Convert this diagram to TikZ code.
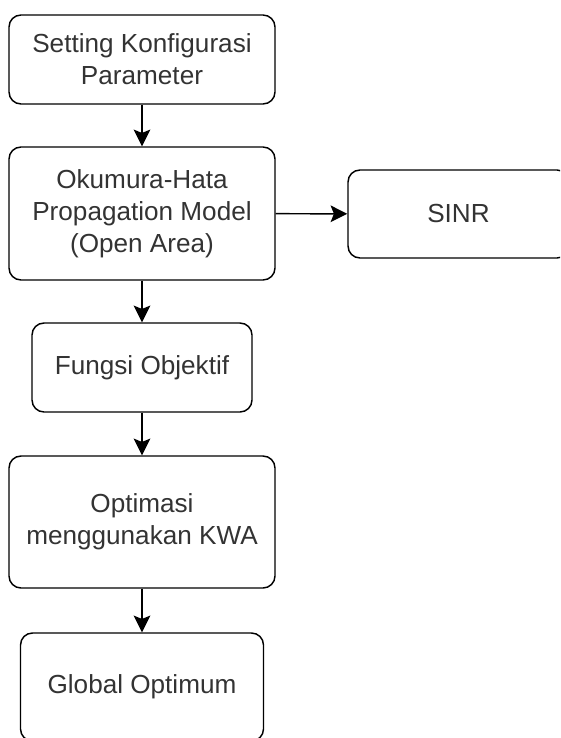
\documentclass[tikz,border=0pt]{standalone}
\usepackage{fontspec}
\setmainfont{Liberation Sans}
\usetikzlibrary{arrows.meta}
\definecolor{teks}{HTML}{333333}

\begin{document}
\begin{tikzpicture}[x=0.75pt,y=-0.75pt,
  blok/.style={draw, line width=1.1pt, rounded corners=9pt, align=center,
    text=teks, inner sep=0pt, font=\fontsize{19.6pt}{24pt}\selectfont},
  panah/.style={-{Stealth[length=12.5pt,width=12.5pt,inset=2.5pt]}, line width=1.1pt}]
  \useasboundingbox (0,0) rectangle (560,738);
  \clip (0,0) rectangle (560,738);

  % Blok alur utama
  \node[blok, minimum width=199.5pt, minimum height=66.75pt] (setting) at (142,59.5) {Setting Konfigurasi\\Parameter};
  \node[blok, minimum width=199.5pt, minimum height=99.75pt] (hata) at (142,213.5) {Okumura-Hata\\Propagation Model\\(Open Area)};
  \node[blok, minimum width=165pt, minimum height=66.75pt] (fungsi) at (142,367.5) {Fungsi Objektif};
  \node[blok, minimum width=199.5pt, minimum height=99pt] (kwa) at (142,522) {Optimasi\\menggunakan KWA};
  \node[blok, minimum width=182.25pt, minimum height=81pt] (global) at (142,687) {Global Optimum};

  % Blok samping
  \node[blok, minimum width=165.75pt, minimum height=66pt] (sinr) at (458.5,214) {SINR};

  % Panah
  \draw[panah] (setting) -- (hata);
  \draw[panah] (hata) -- (fungsi);
  \draw[panah] (fungsi) -- (kwa);
  \draw[panah] (kwa) -- (global);
  \draw[panah] (hata) -- (sinr);
\end{tikzpicture}
\end{document}
